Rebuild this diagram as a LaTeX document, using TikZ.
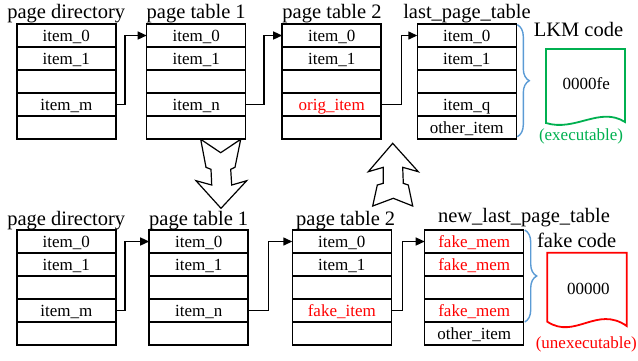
\documentclass[tikz,border=0pt]{standalone}
\usepackage{fontspec}
\setmainfont{Liberation Serif}
\usetikzlibrary{arrows.meta,decorations.pathreplacing}
\definecolor{okgreen}{RGB}{0,176,80}
\definecolor{braceblue}{RGB}{91,155,213}
\newcommand\rd[1]{\textcolor{red}{#1}}
\newcommand\titlefont{\rmfamily\fontsize{20.5}{24}\selectfont}
\newcommand\itemfont{\rmfamily\fontsize{17}{20}\selectfont}
\tikzset{
  row/.style={draw, line width=1.5pt, minimum width=99pt, minimum height=23pt,
    inner sep=0pt, outer sep=0pt, font=\itemfont, text height=11.5pt, text depth=0pt},
  ttl/.style={anchor=base, inner sep=0pt, font=\titlefont},
  lbl/.style={anchor=base, inner sep=0pt, font=\itemfont},
  link/.style={line width=1.4pt, -{Triangle[length=9pt,width=8pt]}},
  blockarrow/.style={draw, line width=1.2pt, fill=white, line join=miter},
  docshape/.style={line width=1.8pt, line join=miter},
  bracestyle/.style={draw=braceblue, line width=1.4pt,
    decorate, decoration={brace, amplitude=12pt}}
}
% name, x-center, y-top, five row texts
\newcommand\mktab[8]{%
  \node[row] (#1-0) at (#2,{#3+11.5}) {#4};
  \node[row] (#1-1) at (#2,{#3+34.5}) {#5};
  \node[row] (#1-2) at (#2,{#3+57.5}) {#6};
  \node[row] (#1-3) at (#2,{#3+80.5}) {#7};
  \node[row] (#1-4) at (#2,{#3+103.5}) {#8};
}
\begin{document}
\begin{tikzpicture}[x=1pt,y=-1pt]
\useasboundingbox (0,0) rectangle (638,360);

% ---------- top row ----------
\mktab{apd}{66.3}{24}{item\_0}{item\_1}{}{item\_m}{}
\mktab{apa}{196.2}{24}{item\_0}{item\_1}{}{item\_n}{}
\mktab{apb}{331.7}{24}{item\_0}{item\_1}{}{\rd{orig\_item}}{}
\mktab{alp}{466.8}{24}{item\_0}{item\_1}{}{item\_q}{other\_item}

\node[ttl] (tapd) at (66.3,18.3) {page directory};
\node[ttl] (tapa) at (196.2,18.3) {page table 1};
\node[ttl] (tapb) at (332,18.3) {page table 2};
\node[ttl] (talp) at (467,18.3) {last\_page\_table};

\draw[link] (apd-3.east) -- ++(9,0) |- (apa-0.west);
\draw[link] (apa-3.east) -- ++(18.3,0) |- (apb-0.west);
\draw[link] (apb-3.east) -- ++(20,0) |- (alp-0.west);

\coordinate (bra1) at ([xshift=1pt,yshift=-0.7pt]alp-0.north east);
\coordinate (bra2) at ([xshift=1pt,yshift=2.3pt]alp-4.south east);
\draw[bracestyle] (bra1) -- (bra2);

\node[ttl] (lkmt) at (578.5,36) {LKM code};
\draw[docshape, draw=okgreen] (546,123) -- (546,49) -- (625,49) -- (625,122)
  .. controls (600,106) and (575,132) .. (546,123) -- cycle;
\node[lbl] (lkmc) at (586.3,89.3) {0000fe};
\node[lbl, text=okgreen] (lkme) at (581,140) {(executable)};

% ---------- bottom row ----------
\mktab{bpd}{66.3}{230}{item\_0}{item\_1}{}{item\_m}{}
\mktab{bpa}{198.7}{230}{item\_0}{item\_1}{}{item\_n}{}
\mktab{bpb}{341.8}{230}{item\_0}{item\_1}{}{\rd{fake\_item}}{}
\mktab{bnl}{474.2}{230}{\rd{fake\_mem}}{\rd{fake\_mem}}{}{\rd{fake\_mem}}{other\_item}

\node[ttl] (tbpd) at (66.3,225) {page directory};
\node[ttl] (tbpa) at (198.7,225) {page table 1};
\node[ttl] (tbpb) at (345.7,225) {page table 2};
\node[ttl] (tbnl) at (524,222.7) {new\_last\_page\_table};

\draw[link] (bpd-3.east) -- ++(9,0) |- (bpa-0.west);
\draw[link] (bpa-3.east) -- ++(20,0) |- (bpb-0.west);
\draw[link] (bpb-3.east) -- ++(11,0) |- (bnl-0.west);

\coordinate (brb1) at ([xshift=1pt]bnl-0.north east);
\coordinate (brb2) at ([xshift=1pt]bnl-3.south east);
\draw[bracestyle] (brb1) -- (brb2);

\node[ttl] (fkt) at (576.7,247.7) {fake code};
\draw[docshape, draw=red] (547.3,321.7) -- (547.3,252.7) -- (626.7,252.7) -- (626.7,326)
  .. controls (597,305) and (575,340) .. (547.3,321.7) -- cycle;
\node[lbl] (fkc) at (588.3,294) {00000};
\node[lbl, text=red] (fke) at (586.3,348.3) {(unexecutable)};

% ---------- block arrows ----------
\path[blockarrow] (200.7,139.3) -- (220.7,152.7) -- (240.7,139.3) -- (235,167.3)
  -- (230.7,169.3) -- (231.7,185) -- (246.7,180.7) -- (221,208.3) -- (196,180.7)
  -- (211.7,185) -- (211,169.3) -- (206,167.3) -- cycle;
\path[blockarrow] (392.7,143.3) -- (418.3,171.7) -- (402.7,167.3) -- (403.3,183.3)
  -- (408.3,185) -- (412.7,206) -- (393.3,198.3) -- (372.7,206) -- (377.3,185)
  -- (383.3,183.3) -- (383.3,167.3) -- (368.3,171.7) -- cycle;
\end{tikzpicture}
\end{document}
